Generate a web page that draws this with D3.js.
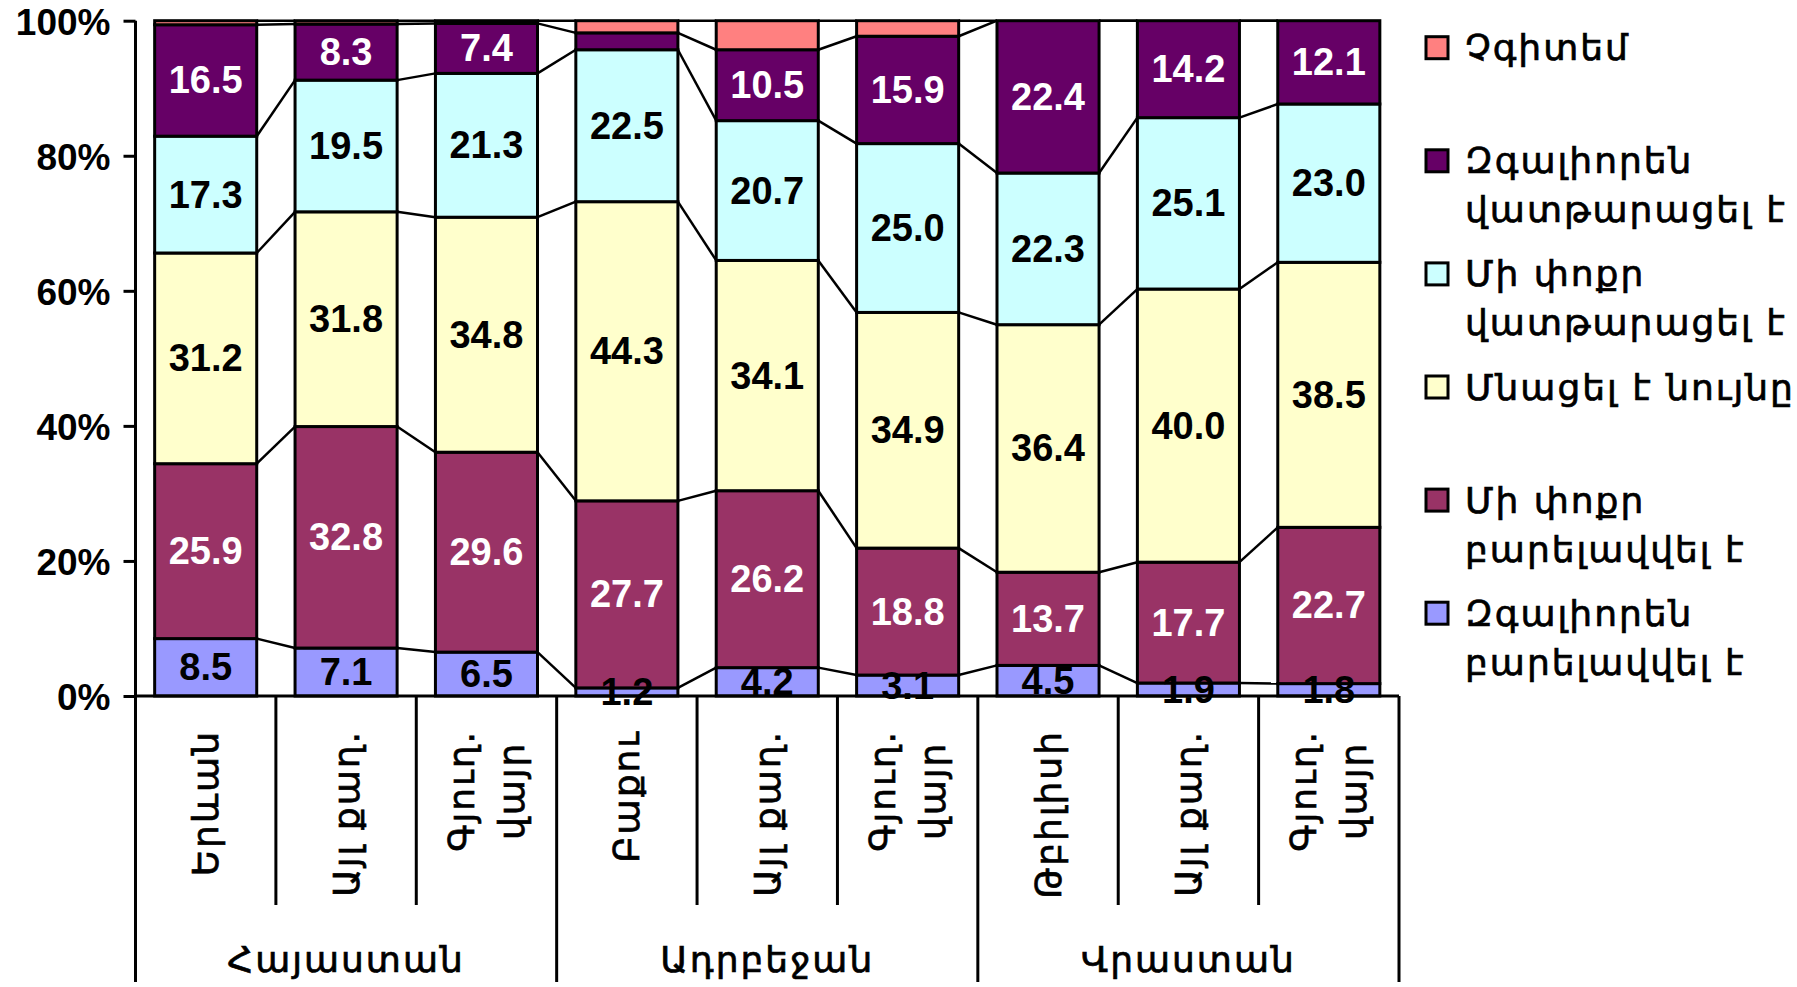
<!DOCTYPE html>
<html><head><meta charset="utf-8">
<script src="https://cdn.jsdelivr.net/npm/d3@7"></script>
<style>body{margin:0;background:#fff;overflow:hidden} svg{display:block}</style>
</head><body><svg id="c" width="1797" height="987"></svg>
<script>
// ---- data ----
const categories = ["Երևան","Այլ քաղ.","Գյուղ. վայր","Բաքու","Այլ քաղ.","Գյուղ. վայր","Թբիլիսի","Այլ քաղ.","Գյուղ. վայր"];
const groups = ["Հայաստան","Ադրբեջան","Վրաստան"];
const groupSize = 3;
const seriesNames = ["Զգալիորեն բարելավվել է","Մի փոքր բարելավվել է","Մնացել է նույնը","Մի փոքր վատթարացել է","Զգալիորեն վատթարացել է","Չգիտեմ"];
const legendLines = [["Զգալիորեն","բարելավվել է"],["Մի փոքր","բարելավվել է"],["Մնացել է նույնը"],["Մի փոքր","վատթարացել է"],["Զգալիորեն","վատթարացել է"],["Չգիտեմ"]];
const significantlyImproved = [8.5,7.1,6.5,1.2,4.2,3.1,4.5,1.9,1.8];
const slightlyImproved      = [25.9,32.8,29.6,27.7,26.2,18.8,13.7,17.7,22.7];
const stayedSame            = [31.2,31.8,34.8,44.3,34.1,34.9,36.4,40.0,38.5];
const slightlyWorsened      = [17.3,19.5,21.3,22.5,20.7,25.0,22.3,25.1,23.0];
const significantlyWorsened = [16.5,8.3,7.4,2.5,10.5,15.9,22.4,14.2,12.1];
const dontKnow              = [0.6,0.5,0.4,1.8,4.3,2.3,0,0,0];
const seriesValues = [significantlyImproved, slightlyImproved, stayedSame, slightlyWorsened, significantlyWorsened, dontKnow];
const colors = ["#9999FF","#993366","#FFFFCC","#CCFFFF","#660066","#FF8080"];
const labelColors = ["#000","#fff","#000","#000","#fff",null];
const hiddenLabels = [[4,3]]; // [series, category] without data label
const yTicks = [0,0.2,0.4,0.6,0.8,1];

// ---- layout ----
const svg = d3.select("#c");
const pLeft = 135.5, pRight = 1399, pTop = 20.7, pBottom = 696;
const armFont = "'DejaVu Sans', sans-serif";
const numFont = "'Liberation Sans', Arial, sans-serif";
function armText(sel){
  return sel.attr("font-family",armFont).attr("font-size",36).attr("letter-spacing",2)
    .attr("fill","#000").attr("stroke","#000").attr("stroke-width",0.7);
}

const rows = categories.map((c,i)=>{const r={idx:i}; seriesNames.forEach((s,k)=>r[s]=seriesValues[k][i]); return r;});
const stack = d3.stack().keys(seriesNames).offset(d3.stackOffsetExpand);
const layers = stack(rows);

const x = d3.scaleBand().domain(d3.range(categories.length)).range([pLeft,pRight]).paddingInner(0.273).paddingOuter(0.1365);
const y = d3.scaleLinear().domain([0,1]).range([pBottom,pTop]);
const bw = x.bandwidth();

// series lines
const lineG = svg.append("g");
layers.forEach(L=>{
  for(let i=0;i<categories.length-1;i++){
    lineG.append("line")
      .attr("x1",x(i)+bw).attr("y1",y(L[i][1]))
      .attr("x2",x(i+1)).attr("y2",y(L[i+1][1]))
      .attr("stroke","#000").attr("stroke-width",2.5);
  }
});

// bars
layers.forEach((L,k)=>{
  svg.append("g").selectAll("rect").data(L).join("rect")
    .attr("x",(d,i)=>x(i)).attr("width",bw)
    .attr("y",d=>y(d[1])).attr("height",d=>Math.max(0,y(d[0])-y(d[1])))
    .attr("fill",colors[k]).attr("stroke","#000").attr("stroke-width",3)
    .style("display",d=>(d[1]-d[0])>0?null:"none");
});

// labels
layers.forEach((L,k)=>{
  if(!labelColors[k]) return;
  L.forEach((d,i)=>{
    if(hiddenLabels.some(h=>h[0]===k&&h[1]===i)) return;
    svg.append("text")
      .attr("x",x(i)+bw/2).attr("y",y((d[0]+d[1])/2))
      .attr("text-anchor","middle").attr("dominant-baseline","central")
      .attr("font-family",numFont).attr("font-weight","bold").attr("font-size",38)
      .attr("fill",labelColors[k]).text(seriesValues[k][i].toFixed(1));
  });
});

// y axis
const yAxis = d3.axisLeft(y).tickValues(yTicks).tickFormat(d3.format(".0%")).tickSize(12).tickPadding(13);
const ya = svg.append("g").attr("transform",`translate(${pLeft},0)`).call(yAxis);
ya.select(".domain").remove();
ya.selectAll(".tick line").attr("stroke","#000").attr("stroke-width",3);
ya.selectAll(".tick text").attr("font-family",numFont).attr("font-weight","bold").attr("font-size",37)
  .attr("dy","0.36em").attr("fill","#000");
svg.append("line").attr("x1",pLeft).attr("x2",pLeft).attr("y1",pTop).attr("y2",pBottom).attr("stroke","#000").attr("stroke-width",3);
svg.append("line").attr("x1",pLeft).attr("x2",pRight).attr("y1",pBottom).attr("y2",pBottom).attr("stroke","#000").attr("stroke-width",3);

// category separators
const step = x.step();
for(let i=0;i<=categories.length;i++){
  const xx = pLeft + i*step;
  const isGroup = i%groupSize===0;
  svg.append("line").attr("x1",xx).attr("x2",xx).attr("y1",pBottom).attr("y2",isGroup?982:905)
    .attr("stroke","#000").attr("stroke-width",3);
}

// category labels (rotated)
categories.forEach((c,i)=>{
  const parts = c==="Գյուղ. վայր" ? ["Գյուղ.","վայր"] : [c];
  const cx = x(i)+bw/2;
  const g = svg.append("g");
  const lh = 50;
  const ts = parts.map((p,j)=>armText(g.append("text"))
      .attr("text-anchor","middle").attr("dominant-baseline","central").text(p));
  const maxLen = d3.max(ts,t=>t.node().getComputedTextLength());
  ts.forEach((t,j)=>{
    const off = (j-(parts.length-1)/2)*lh;
    const tx = cx+off, ty = 730+maxLen/2;
    t.attr("transform",`translate(${tx},${ty}) rotate(-90)`);
  });
});

// group labels
groups.forEach((gname,gi)=>{
  const cx = pLeft + (gi*groupSize+groupSize/2)*step;
  armText(svg.append("text")).attr("x",cx).attr("y",972).attr("text-anchor","middle").text(gname);
});

// legend (top to bottom = reversed series)
const legX = 1426, legY0 = 47.7, legStep = 113.1;
d3.range(seriesNames.length).reverse().forEach((k,j)=>{
  const cy = legY0 + j*legStep;
  svg.append("rect").attr("x",legX).attr("y",cy-11).attr("width",22).attr("height",22)
    .attr("fill",colors[k]).attr("stroke","#000").attr("stroke-width",3);
  legendLines[k].forEach((ln,li)=>{
    armText(svg.append("text")).attr("x",1465).attr("y",cy+li*49).attr("dominant-baseline","central").text(ln);
  });
});
</script></body></html>
